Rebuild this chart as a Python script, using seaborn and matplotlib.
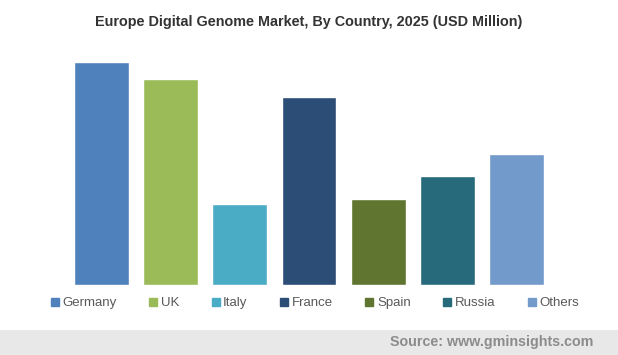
import matplotlib
matplotlib.use("Agg")
import matplotlib.pyplot as plt
import seaborn as sns
import pandas as pd
from matplotlib.patches import Rectangle
from matplotlib.lines import Line2D

# data (USD Million, estimated)
countries = ["Germany", "UK", "Italy", "France", "Spain", "Russia", "Others"]
values = [223, 206, 81, 188, 86, 109, 131]
colors = ["#4F81BD", "#9BBB59", "#4BACC6", "#2C4D75", "#5F7530", "#276A7C", "#729ACA"]

df = pd.DataFrame({"country": countries, "value": values})

sns.set_style("white")
plt.rcParams["font.family"] = ["Liberation Sans", "DejaVu Sans"]

fig = plt.figure(figsize=(6.18, 3.55), dpi=100)
ax = fig.add_axes([0.108, 0.197, 0.784, 0.648])

sns.barplot(data=df, x="country", y="value", hue="country", palette=colors,
            width=0.79, dodge=False, legend=False, ax=ax, saturation=1)
ax.set_xlim(-0.5, 6.5)
ax.set_ylim(0, 230)
ax.set_axis_off()

# title
fig.text(0.5, 0.938, "Europe Digital Genome Market, By Country, 2025 (USD Million)",
         ha="center", va="center", fontsize=10.4, fontweight="bold", color="#333333")

# legend below the bars
handles = [Line2D([], [], marker="s", linestyle="", markersize=5.5,
                  markerfacecolor=c, markeredgecolor=c) for c in colors]
fig.legend(handles, countries, loc="center", bbox_to_anchor=(0.51, 0.146), ncol=7,
           frameon=False, handlelength=0.55, handletextpad=0.3, columnspacing=2.5,
           prop={"size": 9.5}, labelcolor="#595959")

# footer band with source
fig.patches.append(Rectangle((0, 0), 1, 0.07, transform=fig.transFigure,
                             facecolor="#E8E8E8", edgecolor="none", zorder=0))
fig.text(0.96, 0.037, "Source: www.gminsights.com", ha="right", va="center",
         fontsize=10.3, fontweight="bold", color="#8C8C8C")

fig.savefig("out.png", dpi=100)
